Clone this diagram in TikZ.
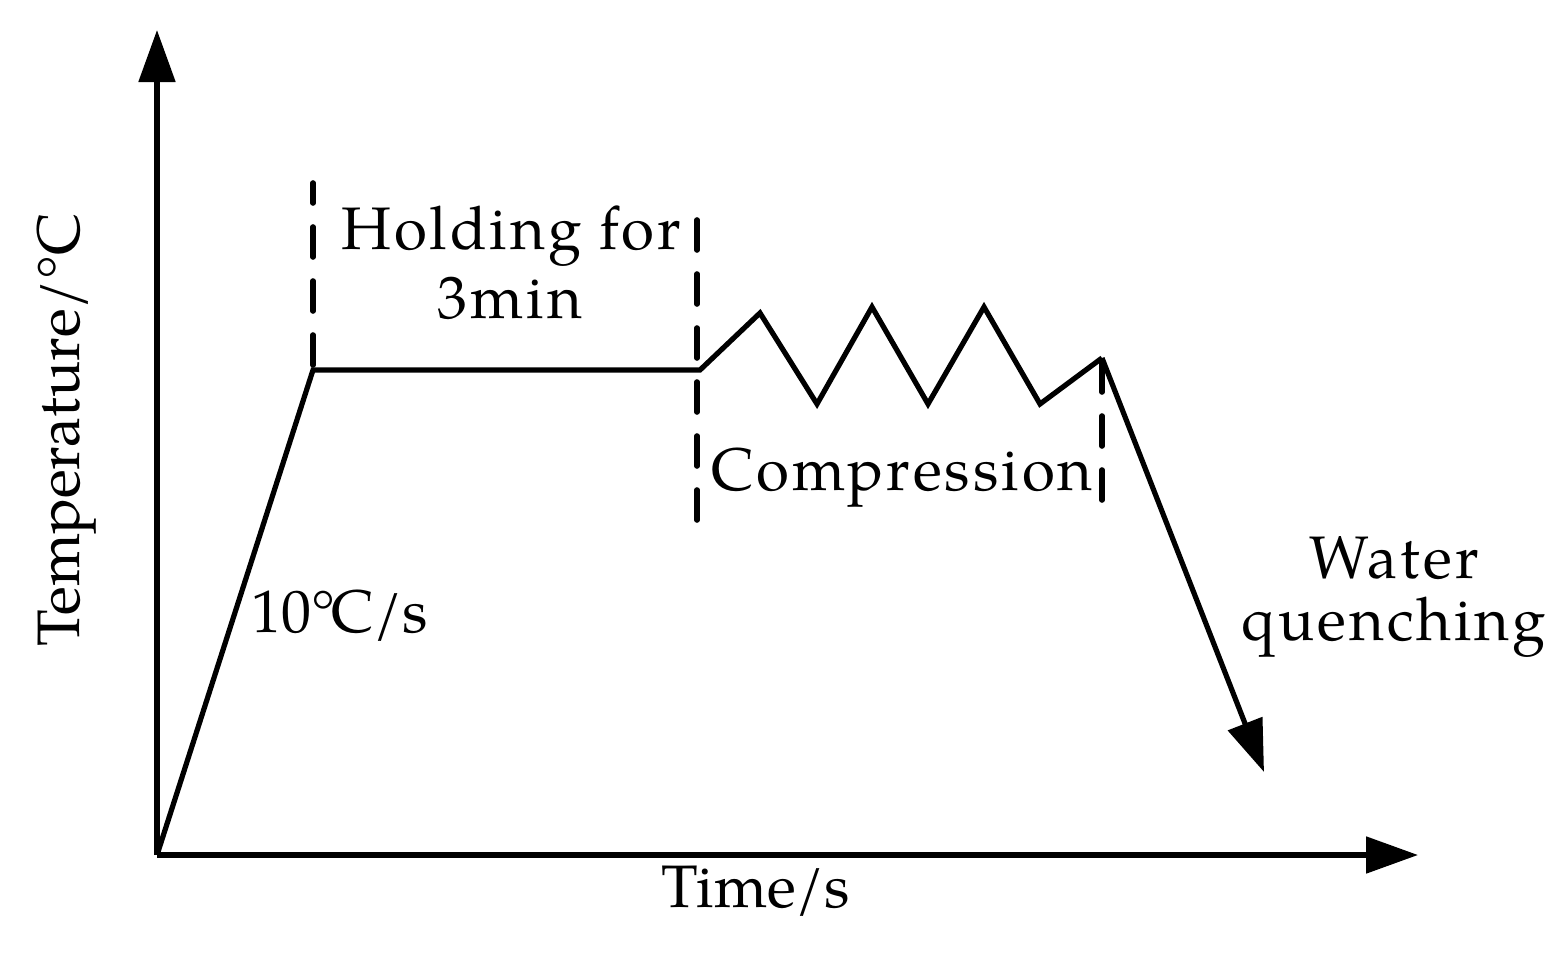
\documentclass[tikz,border=0pt]{standalone}
\usepackage{fontspec}
\setmainfont{TeX Gyre Pagella}
\newfontfamily\spaced[LetterSpace=5]{TeX Gyre Pagella}
\usetikzlibrary{arrows.meta}
\begin{document}
\begin{tikzpicture}[x=0.5pt,y=-0.5pt,
  curve/.style={line width=2.6pt,line join=miter},
  axis/.style={line width=2.6pt,-{Triangle[length=26pt,width=18pt]}},
  guide/.style={line width=2.8pt,line cap=round,dash pattern=on 15pt off 12pt},
  lbl/.style={font=\fontsize{30}{36}\selectfont,inner sep=0pt,anchor=base},
  wide/.style={lbl,font=\fontsize{30}{36}\spaced}]
\useasboundingbox (0,0) rectangle (1559,958);
% axes
\coordinate (O) at (157,855);
\coordinate (Ytip) at (157,30);
\coordinate (Xtip) at (1418,855);
\draw[axis] (O) -- (Ytip);
\draw[axis] (O) -- (Xtip);
% profile
\coordinate (A) at (313,370);
\coordinate (B) at (700,370);
\coordinate (Z1) at (760,313);
\coordinate (Z2) at (817,404);
\coordinate (Z3) at (872,307);
\coordinate (Z4) at (928,404);
\coordinate (Z5) at (984,307);
\coordinate (Z6) at (1040,404);
\coordinate (E) at (1102,358);
\coordinate (Q) at (1264,772);
\draw[curve] (O) -- (A) -- (B) -- (Z1) -- (Z2) -- (Z3) -- (Z4) -- (Z5) -- (Z6) -- (E);
\draw[axis] (E) -- (Q);
% dashed guides
\coordinate (G1b) at (313,365);
\coordinate (G1t) at (313,183);
\coordinate (G2b) at (697,520);
\coordinate (G2t) at (697,213);
\coordinate (G3b) at (1102,500);
\coordinate (G3t) at (1102,358);
\draw[guide] (G1b) -- (G1t);
\draw[guide] (G2b) -- (G2t);
\draw[guide] (G3b) -- (G3t);
% labels
\node[wide] (hold1) at (511,249) {Holding for};
\node[wide] (hold2) at (510,318) {3min};
\node[wide] (comp) at (902,490) {Compression};
\node[wide] (wat1) at (1394,578) {Water};
\node[wide] (wat2) at (1394,640) {quenching};
\node[lbl] (rate) at (340,632) {10\textdegree\kern-0.08em C/s};
\node[lbl] (time) at (756,907) {Time/s};
\node[lbl,rotate=90] (temp) at (79,430) {Temperature/\textdegree C};
\end{tikzpicture}
\end{document}
